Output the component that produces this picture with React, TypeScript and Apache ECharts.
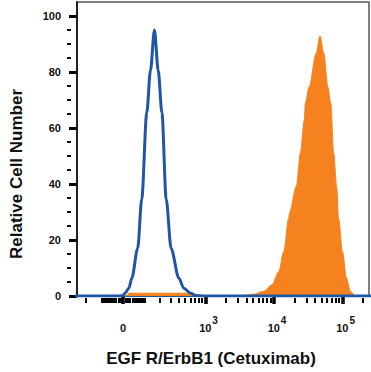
import React, { useEffect, useRef } from "react";
import * as echarts from "echarts";

// Fluorescence intensity (raw) and relative cell counts
const isotypeX = [-400, -20, 0, 8, 25, 38, 65, 85, 112, 134, 160, 187, 217, 255, 306, 403, 479, 608, 717, 1000, 300000];
const isotypeY = [0, 0, 0.2, 1, 2.8, 6.4, 17, 34.6, 65.4, 80.6, 95, 80.6, 65.4, 34.6, 17, 6.4, 2.8, 1, 0.2, 0, 0];

const stainedX = [-400, 15, 25, 300, 530, 700, 3000, 4870, 7230, 9410, 11840, 13960, 16460, 17000, 21400, 24430, 27870, 28800, 32840, 41340, 47170, 53770, 61370, 67710, 74690, 82420, 88130, 100430, 114630, 130730, 154060, 300000];
const stainedY = [0, 0, 1, 1, 1, 0, 0, 0.5, 1.7, 4.0, 8.7, 15.8, 27.6, 29.9, 39.3, 51.1, 62.9, 68.8, 74.7, 86.5, 92.9, 86.5, 74.7, 68.8, 51.1, 39.3, 27.6, 15.8, 6.4, 1.7, 0, 0];

const xMajorRaw = [0, 1000, 10000, 100000];
const xMajorBase = ["0", "10", "10", "10"];
const xExpRaw = [1000, 10000, 100000];
const xExpLabels = ["3", "4", "5"];
const xMinorRaw = [
  -200, -100, -90, -80, -70, -60, -50, -40, -30, -20, -10,
  10, 20, 30, 40, 50, 60, 70, 80, 90,
  100, 200, 300, 400, 500, 600, 700, 800, 900,
  2000, 3000, 4000, 5000, 6000, 7000, 8000, 9000,
  20000, 30000, 40000, 50000, 60000, 70000, 80000, 90000,
  200000,
];
const yMajor = [0, 20, 40, 60, 80, 100];
const yMinor = [5, 10, 15, 25, 30, 35, 45, 50, 55, 65, 70, 75, 85, 90, 95];

const xTitle = "EGF R/ErbB1 (Cetuximab)";
const yTitle = "Relative Cell Number";

// biexponential-like display transform
const W = 126.8;
const T = (v: number) => Math.asinh(v / W) / Math.LN10;
const X_MIN = -0.671;
const X_MAX = 3.586;
const Y_MAX = 105;

const CW = 371;
const CH = 372;
const GRID = { left: 71, right: 2, top: 2, bottom: 74 };

function nearestIndex(list: number[], v: number) {
  let idx = 0;
  let best = Infinity;
  list.forEach((m, i) => {
    if (Math.abs(m - v) < best) {
      best = Math.abs(m - v);
      idx = i;
    }
  });
  return idx;
}

export default function App() {
  const ref = useRef<HTMLDivElement>(null);
  useEffect(() => {
    document.body.style.margin = "0";
    if (!ref.current) return;
    const chart = echarts.init(ref.current, null, { renderer: "svg" });
    const font = "Liberation Sans";
    const majorX = xMajorRaw.map(T);
    const expX = xExpRaw.map(T);
    const minorX = xMinorRaw.map(T).filter((v) => v > X_MIN && v < X_MAX);
    const gridW = CW - GRID.left - GRID.right;
    const gridH = CH - GRID.top - GRID.bottom;
    chart.setOption({
      animation: false,
      grid: { left: GRID.left, right: GRID.right, top: GRID.top, bottom: GRID.bottom, show: true, borderColor: "#555", borderWidth: 1.5 },
      xAxis: [
        {
          type: "value",
          position: "bottom",
          min: X_MIN,
          max: X_MAX,
          name: xTitle,
          nameLocation: "middle",
          nameGap: 54,
          nameTextStyle: { fontFamily: font, fontWeight: "bold", fontSize: 17, color: "#111", padding: [0, 24, 0, 0] },
          axisLine: { show: true, onZero: false, lineStyle: { color: "#1f56a5", width: 1 } },
          splitLine: { show: false },
          axisTick: {
            show: true,
            customValues: majorX,
            length: 8,
            lineStyle: { color: "#000", width: 3.5 },
          },
          axisLabel: {
            customValues: majorX,
            margin: 26,
            fontFamily: font,
            fontWeight: "bold",
            fontSize: 11,
            color: "#111",
            formatter: (val: number) => xMajorBase[nearestIndex(majorX, val)],
          },
        },
        {
          type: "value",
          position: "top",
          offset: -gridH,
          min: X_MIN,
          max: X_MAX,
          axisLine: { show: false, onZero: false },
          splitLine: { show: false },
          axisTick: {
            show: true,
            inside: true,
            customValues: minorX,
            length: 5,
            lineStyle: { color: "#000", width: 2 },
          },
          axisLabel: {
            show: true,
            inside: true,
            customValues: expX,
            margin: 17,
            align: "left",
            verticalAlign: "top",
            padding: [0, 0, 0, 7],
            fontFamily: font,
            fontWeight: "bold",
            fontSize: 10,
            color: "#111",
            formatter: (val: number) => xExpLabels[nearestIndex(expX, val)],
          },
        },
      ],
      yAxis: [
        {
          type: "value",
          position: "left",
          min: 0,
          max: Y_MAX,
          name: yTitle,
          nameLocation: "middle",
          nameGap: 52,
          nameTextStyle: { fontFamily: font, fontWeight: "bold", fontSize: 17, color: "#111", padding: [0, 50, 0, 0] },
          axisLine: { show: true, onZero: false, lineStyle: { color: "#000", width: 1.5 } },
          splitLine: { show: false },
          axisTick: {
            show: true,
            customValues: yMajor,
            length: 8,
            lineStyle: { color: "#000", width: 3 },
          },
          axisLabel: {
            customValues: yMajor,
            margin: 16,
            fontFamily: font,
            fontWeight: "bold",
            fontSize: 11,
            color: "#111",
          },
        },
        {
          type: "value",
          position: "right",
          offset: -gridW,
          min: 0,
          max: Y_MAX,
          axisLine: { show: false, onZero: false },
          splitLine: { show: false },
          axisLabel: { show: false },
          axisTick: {
            show: true,
            inside: true,
            customValues: yMinor,
            length: 4,
            lineStyle: { color: "#000", width: 2 },
          },
        },
      ],
      series: [
        {
          type: "line",
          data: stainedX.map((x, i) => [T(x), stainedY[i]]),
          showSymbol: false,
          smooth: 0.3,
          smoothMonotone: "x",
          lineStyle: { width: 1, color: "#f5821f" },
          areaStyle: { color: "#f5821f", opacity: 1 },
        },
        {
          type: "line",
          data: isotypeX.map((x, i) => [T(x), isotypeY[i]]),
          showSymbol: false,
          smooth: 0.3,
          smoothMonotone: "x",
          lineStyle: { width: 3, color: "#1f56a5" },
        },
      ],
    });
    return () => chart.dispose();
  }, []);
  return <div ref={ref} style={{ width: CW, height: CH }} />;
}
